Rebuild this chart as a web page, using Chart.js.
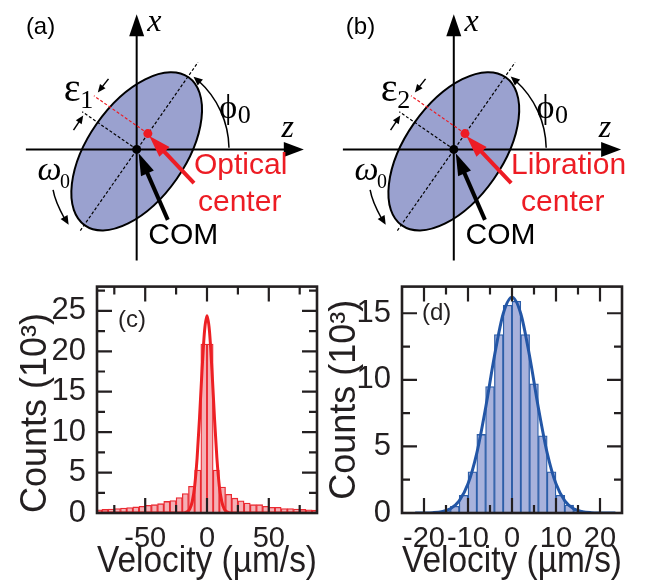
<!DOCTYPE html>
<html lang="en">
<head>
  <meta charset="UTF-8" />
  <title>Optical and libration centre velocity histograms</title>
  <script src="https://cdn.jsdelivr.net/npm/chart.js"></script>
  <style>
    body { margin: 0; background: #fff; }
    #fig { position: relative; width: 647px; height: 580px; overflow: hidden; }
    canvas { position: absolute; }
  </style>
</head>
<body>
  <div id="fig">
    <canvas id="schemA" width="320" height="265" style="left:0;top:0"></canvas>
    <canvas id="schemB" width="330" height="265" style="left:317px;top:0"></canvas>
    <canvas id="histC" width="335" height="315" style="left:0;top:265px"></canvas>
    <canvas id="histD" width="327" height="315" style="left:320px;top:265px"></canvas>
  </div>

  <script>
    // ---------- histogram data (counts in units of 10^3) ----------
    // (c) optical centre, 5 um/s bins
    const binsC = [-87.5, -82.5, -77.5, -72.5, -67.5, -62.5, -57.5, -52.5, -47.5, -42.5, -37.5, -32.5,
                   -27.5, -22.5, -17.5, -12.5, -7.5, -2.5, 2.5, 7.5, 12.5, 17.5, 22.5, 27.5,
                   32.5, 37.5, 42.5, 47.5, 52.5, 57.5, 62.5, 67.5, 72.5, 77.5, 82.5, 87.5];
    const countsC = [0.4, 0.44, 0.5, 0.55, 0.6, 0.67, 0.75, 0.83, 0.95, 1.03, 1.15, 1.43,
                     1.55, 1.9, 2.4, 3.3, 5.3, 20.9, 20.9, 5.3, 3.2, 2.3, 1.83, 1.5,
                     1.23, 1.03, 1.03, 0.83, 0.71, 0.71, 0.56, 0.56, 0.48, 0.44, 0.4, 0.36];
    // fitted curve
    const fitVelC = [-89, -30, -20, -18, -16, -14, -12, -10, -8, -6, -4, -2, 0,
                     2, 4, 6, 8, 10, 12, 14, 16, 18, 20, 30, 89];
    const fitCountsC = [0, 0, 0.01, 0.04, 0.15, 0.48, 1.37, 3.3, 6.8, 11.9, 17.7, 22.5, 24.4,
                        22.5, 17.7, 11.9, 6.8, 3.3, 1.37, 0.48, 0.15, 0.04, 0.01, 0, 0];
    const xTicksC = [-50, 0, 50];
    const xMinorC = [-75, -25, 25, 75];
    const yTicksC = [0, 5, 10, 15, 20, 25];
    const yMinorC = [2.5, 7.5, 12.5, 17.5, 22.5, 27.5];

    // (d) libration centre, 2 um/s bins
    const binsD = [-23, -21, -19, -17, -15, -13, -11, -9, -7, -5, -3, -1,
                   1, 3, 5, 7, 9, 11, 13, 15, 17, 19, 21, 23];
    const countsD = [0, 0.01, 0.03, 0.07, 0.18, 0.5, 1.33, 3.1, 5.9, 9.5, 13.4, 15.6,
                     15.9, 13.4, 9.7, 5.8, 3.1, 1.33, 0.6, 0.2, 0.07, 0.03, 0.01, 0];
    const fitVelD = [-22, -20, -18, -16, -14, -12, -10, -8, -6, -4, -2, 0,
                     2, 4, 6, 8, 10, 12, 14, 16, 18, 20, 23.5];
    const fitCountsD = [0, 0.005, 0.025, 0.1, 0.32, 0.91, 2.19, 4.5, 7.89, 11.77, 14.96, 16.2,
                        14.96, 11.77, 7.89, 4.5, 2.19, 0.91, 0.32, 0.1, 0.025, 0.005, 0];
    const xTicksD = [-20, -10, 0, 10, 20];
    const xMinorD = [-15, -5, 5, 15];
    const yTicksD = [0, 5, 10, 15];
    const yMinorD = [2.5, 7.5, 12.5];

    // ---------- schematic geometry (pixels, origin at COM, y upwards) ----------
    const zAxisLine = [[-114, 0], [152, 0]];
    const zAxisTip = [172, 0];
    const xAxisLine = [[0, -117], [0, 118]];
    const xAxisTip = [0, 140];
    const majorAxis = [[-58, -84], [63, 90]];
    const minorAxis = [[0, 0], [-56, 39]];
    const shiftedAxis = [[11.5, 16.4], [-44, 55.5]];
    const comDot = [[0, 0]];
    const centreDot = [[11.5, 16.4]];
    const ellipseShape = [0, -2, 93, 50, 55];          // cx, cy, a, b, tilt (deg)
    const comArrow = [[32, -73], [2, -4]];
    const centreArrow = [[59, -35], [13, 14]];
    const epsArrowUpper = [[-29, 73], [-40, 59]];
    const epsArrowLower = [[-65, 20], [-55, 35]];
    const phiArc = [95, 1, 52];                         // radius, from, to (deg)
    const omegaArc = [[-86, -42], [-84, -54], [-70, -78]];

    const INK = '#231f20';
    const RED = '#ed1c24';
    const SANS = "'Liberation Sans', Arial, Helvetica, sans-serif";
    const SERIF = "'Liberation Serif', 'Times New Roman', serif";

    function arrowHead(ctx, x0, y0, x1, y1, len, wid) {
      const ang = Math.atan2(y1 - y0, x1 - x0);
      const bx = x1 - len * Math.cos(ang), by = y1 - len * Math.sin(ang);
      ctx.beginPath();
      ctx.moveTo(x1, y1);
      ctx.lineTo(bx + wid / 2 * Math.sin(ang), by - wid / 2 * Math.cos(ang));
      ctx.lineTo(bx - wid / 2 * Math.sin(ang), by + wid / 2 * Math.cos(ang));
      ctx.closePath();
      ctx.fill();
      return [bx, by];
    }

    function arrow(ctx, p0, p1, lw, len, wid, color) {
      ctx.fillStyle = color;
      ctx.strokeStyle = color;
      const [bx, by] = arrowHead(ctx, p0[0], p0[1], p1[0], p1[1], len, wid);
      ctx.lineWidth = lw;
      ctx.beginPath();
      ctx.moveTo(p0[0], p0[1]);
      ctx.lineTo(bx + (p1[0] - bx) * 0.2, by + (p1[1] - by) * 0.2);
      ctx.stroke();
    }

    function schematic(id, o) {
      const canvas = document.getElementById(id);
      const pts = arr => arr.map(([x, y]) => ({ x, y }));
      const line = (arr, color, dash, width) => ({
        data: pts(arr), showLine: true, borderColor: color, borderWidth: width,
        borderDash: dash, pointRadius: 0
      });
      const dot = (arr, color) => ({
        data: pts(arr), pointRadius: 4.5, pointBackgroundColor: color,
        pointBorderColor: color, pointBorderWidth: 0
      });

      const drawing = {
        id: 'drawing',
        beforeDatasetsDraw(chart) {
          const { ctx, scales: { x, y } } = chart;
          const k = x.getPixelForValue(1) - x.getPixelForValue(0);
          const [cx, cy, a, b, tilt] = ellipseShape;
          ctx.save();
          ctx.beginPath();
          ctx.ellipse(x.getPixelForValue(cx), y.getPixelForValue(cy), a * k, b * k,
                      -tilt * Math.PI / 180, 0, 2 * Math.PI);
          ctx.fillStyle = '#9aa1cf';
          ctx.fill();
          ctx.lineWidth = 2;
          ctx.strokeStyle = '#000';
          ctx.stroke();
          ctx.restore();
        },
        afterDatasetsDraw(chart) {
          const { ctx, scales: { x, y } } = chart;
          const P = p => [x.getPixelForValue(p[0]), y.getPixelForValue(p[1])];
          const k = x.getPixelForValue(1) - x.getPixelForValue(0);
          ctx.save();
          // axis heads
          ctx.fillStyle = '#000';
          arrowHead(ctx, ...P(zAxisLine[1]), ...P(zAxisTip), 20, 15);
          arrowHead(ctx, ...P(xAxisLine[1]), ...P(xAxisTip), 22, 15);
          // pointer arrows
          arrow(ctx, P(comArrow[0]), P(comArrow[1]), 4, 22, 14, '#000');
          arrow(ctx, P(centreArrow[0]), P(centreArrow[1]), 4, 22, 14, RED);
          arrow(ctx, P(epsArrowUpper[0]), P(epsArrowUpper[1]), 1.5, 8, 7, '#000');
          arrow(ctx, P(epsArrowLower[0]), P(epsArrowLower[1]), 1.5, 8, 7, '#000');
          // phi arc
          const [r, f, t] = phiArc;
          const [ox, oy] = P([0, 0]);
          const rad = d => d * Math.PI / 180;
          ctx.strokeStyle = '#000';
          ctx.lineWidth = 1.5;
          ctx.beginPath();
          ctx.arc(ox, oy, r * k, -rad(f), -rad(t - 4), true);
          ctx.stroke();
          ctx.fillStyle = '#000';
          arrowHead(ctx, ox + r * k * Math.cos(rad(t - 6)), oy - r * k * Math.sin(rad(t - 6)),
                    ox + r * k * Math.cos(rad(t)), oy - r * k * Math.sin(rad(t)), 9, 8);
          // omega arc
          const [q0, q1, q2] = omegaArc.map(P);
          ctx.beginPath();
          ctx.moveTo(...q0);
          ctx.quadraticCurveTo(...q1, q2[0] - 4, q2[1] - 6);
          ctx.stroke();
          arrowHead(ctx, ...q1, ...q2, 9, 8);

          // labels
          const text = (s, p, font, color, align) => {
            ctx.font = font;
            ctx.fillStyle = color;
            ctx.textAlign = align || 'left';
            ctx.textBaseline = 'alphabetic';
            ctx.fillText(s, ...P(p));
          };
          text(o.panel, o.panelAt, `24px ${SANS}`, '#000');
          text('x', [11, 123], `italic 32px ${SERIF}`, '#000');
          text('z', [149, 13], `italic 32px ${SERIF}`, '#000');
          text('\u03b5', [-75, 50], `40px ${SERIF}`, '#000');
          text(o.sub, [-58, 43], `26px ${SERIF}`, '#000');
          text('\u03d5', [85, 33], `34px ${SERIF}`, '#000');
          text('0', [104, 27], `26px ${SERIF}`, '#000');
          text('\u03c9', [-102, -32], `italic 34px ${SERIF}`, '#000');
          text('0', [-79, -40], `20px ${SERIF}`, '#000');
          text(o.name[0], [o.nameX[0], -25], `30px ${SANS}`, RED, 'center');
          text(o.name[1], [o.nameX[1], -64], `30px ${SANS}`, RED, 'center');
          text('COM', [48, -98], `30px ${SANS}`, '#000', 'center');
          ctx.restore();
        }
      };

      return new Chart(canvas, {
        type: 'scatter',
        data: {
          datasets: [
            dot(centreDot, RED),
            dot(comDot, '#000'),
            line(shiftedAxis, RED, [3, 2], 1.2),
            line(minorAxis, '#000', [3, 2], 1.2),
            line(majorAxis, '#000', [3, 2], 1.2),
            line(xAxisLine, '#000', [], 2),
            line(zAxisLine, '#000', [], 2)
          ]
        },
        options: {
          responsive: false,
          animation: false,
          events: [],
          layout: { padding: 0 },
          plugins: { legend: { display: false }, tooltip: { enabled: false } },
          scales: {
            x: { type: 'linear', display: false, min: -136, max: canvas.width - 136 },
            y: { type: 'linear', display: false, min: -115, max: 150 }
          }
        },
        plugins: [drawing]
      });
    }

    function histogram(id, o) {
      const frame = {
        id: 'frame',
        afterDatasetsDraw(chart) {
          const { ctx, chartArea: a, scales: { x, y } } = chart;
          ctx.save();
          ctx.strokeStyle = INK;
          ctx.lineWidth = 2.2;
          ctx.beginPath();
          const xt = (vals, len) => vals.forEach(v => {
            const p = x.getPixelForValue(v);
            ctx.moveTo(p, a.bottom); ctx.lineTo(p, a.bottom - len);
            ctx.moveTo(p, a.top); ctx.lineTo(p, a.top + len);
          });
          const yt = (vals, len) => vals.forEach(v => {
            const p = y.getPixelForValue(v);
            ctx.moveTo(a.left, p); ctx.lineTo(a.left + len, p);
            ctx.moveTo(a.right, p); ctx.lineTo(a.right - len, p);
          });
          xt(o.xTicks, 15); xt(o.xMinor, 8);
          yt(o.yTicks, 15); yt(o.yMinor, 8);
          ctx.stroke();
          ctx.lineWidth = 2.6;
          ctx.strokeRect(a.left, a.top, a.right - a.left, a.bottom - a.top);
          ctx.fillStyle = INK;
          ctx.font = `24px ${SANS}`;
          ctx.textBaseline = 'alphabetic';
          ctx.fillText(o.panel, a.left + o.panelAt[0], a.top + o.panelAt[1]);
          ctx.restore();
        }
      };

      return new Chart(document.getElementById(id), {
        type: 'bar',
        data: {
          datasets: [
            {
              type: 'line',
              data: o.fitX.map((v, i) => ({ x: v, y: o.fitY[i] })),
              borderColor: o.line, borderWidth: 3, pointRadius: 0,
              cubicInterpolationMode: 'monotone', order: 0
            },
            {
              type: 'bar',
              data: o.bins.map((v, i) => ({ x: v, y: o.counts[i] })),
              backgroundColor: o.fill, borderColor: o.edge, borderWidth: 1.3,
              barPercentage: 1, categoryPercentage: 1, order: 1
            }
          ]
        },
        options: {
          responsive: false,
          animation: false,
          events: [],
          layout: { padding: { top: 13, right: o.padRight, left: 0, bottom: 0 } },
          plugins: { legend: { display: false }, tooltip: { enabled: false } },
          scales: {
            x: {
              type: 'linear', min: o.xMin, max: o.xMax, offset: false,
              grid: { display: false }, border: { display: false },
              afterBuildTicks: s => { s.ticks = o.xTicks.map(v => ({ value: v })); },
              afterFit: s => { s.height = 67; },
              ticks: {
                autoSkip: false, maxRotation: 0, minRotation: 0, padding: 1, color: INK,
                font: { family: SANS, size: 29 }, callback: v => String(v)
              },
              title: {
                display: true, text: 'Velocity (\u00b5m/s)', color: INK,
                font: { family: SANS, size: 36 }, padding: { top: 0, bottom: -4 }
              }
            },
            y: {
              type: 'linear', min: 0, max: o.yMax,
              grid: { display: false }, border: { display: false },
              afterBuildTicks: s => { s.ticks = o.yTicks.map(v => ({ value: v })); },
              afterFit: s => { s.width = o.yWidth; },
              ticks: {
                padding: 3, color: INK, font: { family: SANS, size: 31 },
                callback: v => String(v)
              },
              title: {
                display: true, text: 'Counts (10\u00b3)', color: INK, align: o.titleAlign,
                font: { family: SANS, size: 36 }, padding: { top: o.titlePad, bottom: 0 }
              }
            }
          }
        },
        plugins: [frame]
      });
    }

    schematic('schemA', {
      panel: '(a)', panelAt: [-114, 119], sub: '1',
      name: ['Optical', 'center'], nameX: [107, 106]
    });
    schematic('schemB', {
      panel: '(b)', panelAt: [-111, 119], sub: '2',
      name: ['Libration', 'center'], nameX: [118, 112]
    });

    histogram('histC', {
      bins: binsC, counts: countsC, fitX: fitVelC, fitY: fitCountsC,
      xTicks: xTicksC, xMinor: xMinorC, yTicks: yTicksC, yMinor: yMinorC,
      xMin: -89, xMax: 89, yMax: 28, yWidth: 97, padRight: 18, titlePad: 14, titleAlign: 'start',
      fill: '#f5b0b5', edge: '#ea2a32', line: '#ed2024',
      panel: '(c)', panelAt: [21, 40]
    });
    histogram('histD', {
      bins: binsD, counts: countsD, fitX: fitVelD, fitY: fitCountsD,
      xTicks: xTicksD, xMinor: xMinorD, yTicks: yTicksD, yMinor: yMinorD,
      xMin: -25, xMax: 25, yMax: 17, yWidth: 82, padRight: 25, titlePad: 3, titleAlign: 'center',
      fill: '#a8b2dc', edge: '#2d5ea8', line: '#2356a6',
      panel: '(d)', panelAt: [20, 33]
    });
  </script>
</body>
</html>
